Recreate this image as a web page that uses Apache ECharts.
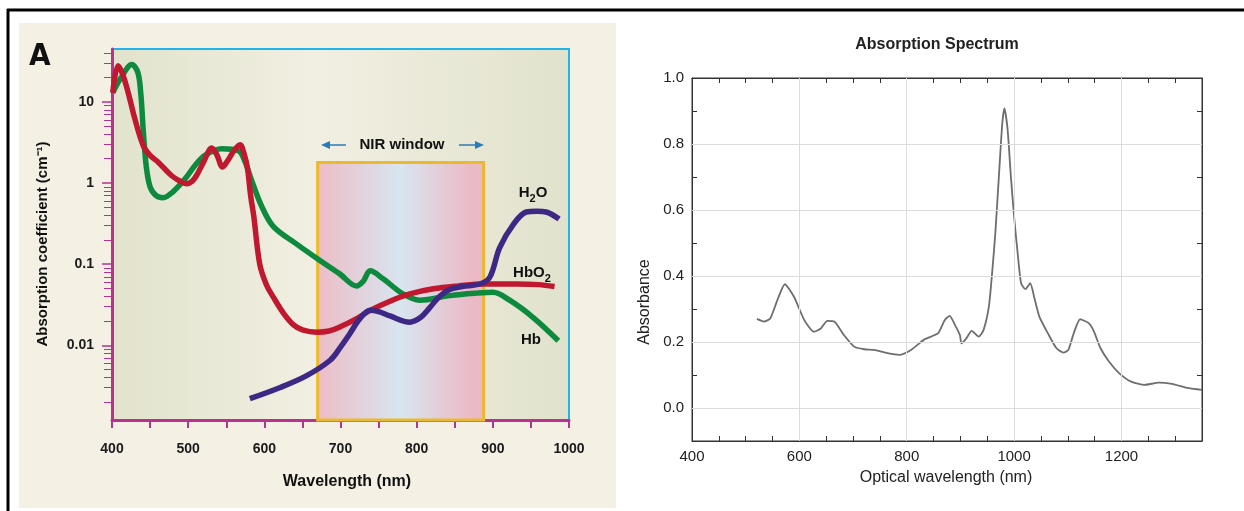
<!DOCTYPE html>
<html>
<head>
<meta charset="utf-8">
<title>Absorption spectra</title>
<script src="https://cdn.jsdelivr.net/npm/echarts@6/dist/echarts.min.js"></script>
<style>
html,body{margin:0;padding:0;background:#fff;}
#main{width:1244px;height:511px;}
</style>
</head>
<body>
<div id="main"></div>
<script>
// 左图：血红蛋白 / 水 吸收系数（对数轴）
var hbWl  = [401, 412, 426, 434, 438, 441, 445, 450, 458, 467, 480, 496, 510, 522, 544, 566, 575, 583, 596, 612, 642, 673, 699, 721, 730, 739, 756, 782, 804, 844, 880, 900, 922, 953, 986];
var hbVal = [13, 20, 29, 23, 12, 4.5, 1.6, 0.9, 0.7, 0.66, 0.78, 1.13, 1.7, 2.2, 2.65, 2.5, 1.8, 1.1, 0.53, 0.29, 0.178, 0.111, 0.076, 0.054, 0.062, 0.083, 0.066, 0.043, 0.036, 0.041, 0.044, 0.045, 0.036, 0.022, 0.0114];

var hbo2Wl  = [401, 408, 414, 421, 430, 441, 450, 461, 478, 490, 498, 505, 511, 520, 531, 538, 545, 552, 560, 568, 574, 578, 582, 586, 594, 603, 612, 625, 638, 650, 669, 685, 699, 720, 739, 765, 791, 822, 855, 887, 931, 960, 981];
var hbo2Val = [13, 28, 22, 13.3, 6.2, 2.9, 2.2, 1.8, 1.24, 1.05, 0.98, 1.05, 1.24, 1.8, 2.7, 2.2, 1.58, 1.9, 2.5, 2.97, 2.2, 1.5, 0.7, 0.4, 0.1, 0.055, 0.039, 0.025, 0.018, 0.0155, 0.0145, 0.015, 0.0168, 0.021, 0.027, 0.035, 0.043, 0.0497, 0.054, 0.057, 0.057, 0.056, 0.053];

var h2oWl  = [581, 620, 655, 686, 700, 712, 725, 739, 750, 765, 791, 805, 817, 830, 844, 860, 883, 896, 909, 927, 944, 958, 970, 987];
var h2oVal = [0.0022, 0.003, 0.0042, 0.0065, 0.0095, 0.0138, 0.021, 0.027, 0.026, 0.023, 0.0193, 0.022, 0.029, 0.040, 0.049, 0.053, 0.057, 0.069, 0.16, 0.31, 0.44, 0.45, 0.44, 0.36];

var nirWindow = [670, 888];
var nirTop = 1.8;
var logMin = 0.0012, logMax = 45;
var minorLogTicks = [];
[0.001, 0.01, 0.1, 1, 10].forEach(function (d) {
    for (var k = 2; k <= 9; k++) minorLogTicks.push(+(d * k).toPrecision(3));
});

// 右图：吸收光谱
var specWl  = [521, 534, 546, 559, 573, 590, 609, 627, 640, 652, 665, 683, 702, 721, 739, 764, 786, 808, 833, 858, 871, 880, 890, 899, 902, 911, 921, 934, 943, 953, 959, 965, 972, 978, 982, 988, 994, 1000, 1006, 1013, 1021, 1030, 1038, 1047, 1063, 1079, 1092, 1101, 1111, 1123, 1139, 1149, 1161, 1177, 1196, 1218, 1243, 1269, 1294, 1325, 1350];
var specVal = [0.27, 0.262, 0.272, 0.327, 0.375, 0.337, 0.267, 0.231, 0.241, 0.264, 0.262, 0.221, 0.186, 0.178, 0.176, 0.166, 0.161, 0.176, 0.208, 0.226, 0.267, 0.279, 0.251, 0.221, 0.196, 0.211, 0.234, 0.216, 0.236, 0.307, 0.408, 0.529, 0.711, 0.863, 0.908, 0.842, 0.701, 0.58, 0.479, 0.378, 0.36, 0.378, 0.332, 0.277, 0.226, 0.181, 0.168, 0.176, 0.226, 0.269, 0.257, 0.231, 0.181, 0.14, 0.105, 0.08, 0.07, 0.077, 0.073, 0.06, 0.055];
var gridX = [600, 800, 1000, 1200];
var gridY = [0, 0.2, 0.4, 0.6, 0.8];

function zip(xs, ys) {
    return xs.map(function (x, i) { return [x, ys[i]]; });
}

var chart = echarts.init(document.getElementById('main'));
var magenta = '#b8328f';
var leftFont = '"Liberation Sans", Arial, sans-serif';
var rightFont = '"Liberation Sans", Arial, sans-serif';

function subLabel(main, sub, tail) {
    return {
        text: '{a|' + main + '}{b|' + sub + '}' + (tail ? '{a|' + tail + '}' : ''),
        rich: {
            a: { fontSize: 15, fontWeight: 'bold', fontFamily: leftFont, fill: '#111', lineHeight: 22, verticalAlign: 'middle' },
            b: { fontSize: 11, fontWeight: 'bold', fontFamily: leftFont, fill: '#111', lineHeight: 12, verticalAlign: 'bottom' }
        }
    };
}

var option = {
    animation: false,
    backgroundColor: '#fff',
    grid: [
        {
            left: 112, right: 675, top: 49, bottom: 91,
            show: true,
            borderColor: '#20b4e8', borderWidth: 2,
            backgroundColor: new echarts.graphic.LinearGradient(0, 0, 1, 0, [
                { offset: 0, color: '#e1e3cc' },
                { offset: 0.45, color: '#f1efe2' },
                { offset: 1, color: '#e1e2cc' }
            ])
        },
        { left: 692, right: 42, top: 78, bottom: 70, show: true, backgroundColor: '#fff', borderColor: '#333', borderWidth: 1 }
    ],
    xAxis: [
        {
            gridIndex: 0, type: 'value', min: 400, max: 1000, interval: 50,
            axisLine: { onZero: false, lineStyle: { color: magenta, width: 3 } },
            axisTick: { length: 8, lineStyle: { color: magenta, width: 2 } },
            axisLabel: {
                formatter: function (v) { return v % 100 === 0 ? v : ''; },
                color: '#1a1a1a', fontWeight: 'bold', fontSize: 14, fontFamily: leftFont, margin: 22
            },
            splitLine: { show: false }
        },
        {
            gridIndex: 1, type: 'value', min: 400, max: 1350, interval: 50, position: 'bottom',
            axisLine: { onZero: false, lineStyle: { color: '#333', width: 1 } },
            axisTick: { inside: true, length: 5, lineStyle: { color: '#333' } },
            axisLabel: {
                formatter: function (v) { return v % 200 === 0 ? v : ''; },
                color: '#222', fontSize: 15, fontFamily: rightFont, margin: 8
            },
            splitLine: { show: false }
        },
        {
            gridIndex: 1, type: 'value', min: 400, max: 1350, interval: 50, position: 'top',
            axisLine: { onZero: false, lineStyle: { color: '#333', width: 1 } },
            axisTick: { inside: true, length: 5, lineStyle: { color: '#333' } },
            axisLabel: { show: false },
            splitLine: { show: false }
        }
    ],
    yAxis: [
        {
            gridIndex: 0, type: 'log', min: logMin, max: logMax, position: 'left',
            axisLine: { show: true, onZero: false, lineStyle: { color: magenta, width: 3 } },
            axisTick: { length: 10, lineStyle: { color: magenta, width: 1.5 } },
            axisLabel: {
                showMinLabel: false, showMaxLabel: false,
                color: '#1a1a1a', fontWeight: 'bold', fontSize: 14, fontFamily: leftFont, margin: 18
            },
            splitLine: { show: false }
        },
        {
            gridIndex: 0, type: 'log', min: logMin, max: logMax, position: 'left',
            axisLine: { show: false, onZero: false },
            axisTick: { show: true, length: 8, customValues: minorLogTicks, lineStyle: { color: magenta, width: 1 } },
            axisLabel: { show: false },
            splitLine: { show: false }
        },
        {
            gridIndex: 1, type: 'value', min: -0.1, max: 1.0, interval: 0.1, position: 'left',
            axisLine: { show: true, onZero: false, lineStyle: { color: '#333', width: 1 } },
            axisTick: { inside: true, length: 5, lineStyle: { color: '#333' } },
            axisLabel: {
                formatter: function (v) {
                    var t = Math.round(v * 10);
                    return t % 2 === 0 ? (t / 10).toFixed(1) : '';
                },
                color: '#222', fontSize: 15, fontFamily: rightFont, margin: 8
            },
            splitLine: { show: false }
        },
        {
            gridIndex: 1, type: 'value', min: -0.1, max: 1.0, interval: 0.1, position: 'right',
            axisLine: { show: true, onZero: false, lineStyle: { color: '#333', width: 1 } },
            axisTick: { inside: true, length: 5, lineStyle: { color: '#333' } },
            axisLabel: { show: false },
            splitLine: { show: false }
        }
    ],
    series: [
        {
            // NIR 窗口
            type: 'line', xAxisIndex: 0, yAxisIndex: 0, data: [], z: 1,
            markArea: {
                silent: true,
                itemStyle: {
                    color: new echarts.graphic.LinearGradient(0, 0, 1, 0, [
                        { offset: 0, color: '#edbcc6' },
                        { offset: 0.5, color: '#d8e5ef' },
                        { offset: 0.92, color: '#ebbac5' },
                        { offset: 1, color: '#ebb9c4' }
                    ]),
                    borderColor: '#ebb92c', borderWidth: 3
                },
                data: [[{ xAxis: nirWindow[0], yAxis: nirTop }, { xAxis: nirWindow[1], yAxis: logMin }]]
            }
        },
        {
            name: 'Hb', type: 'line', xAxisIndex: 0, yAxisIndex: 0, z: 3,
            data: zip(hbWl, hbVal), smooth: 0.35, showSymbol: false,
            lineStyle: { color: '#0e8a3e', width: 5.5 }
        },
        {
            name: 'HbO2', type: 'line', xAxisIndex: 0, yAxisIndex: 0, z: 4,
            data: zip(hbo2Wl, hbo2Val), smooth: 0.35, showSymbol: false,
            lineStyle: { color: '#c0182e', width: 5.5 }
        },
        {
            name: 'H2O', type: 'line', xAxisIndex: 0, yAxisIndex: 0, z: 5,
            data: zip(h2oWl, h2oVal), smooth: 0.35, showSymbol: false,
            lineStyle: { color: '#3d2886', width: 5.5 }
        },
        {
            // 右图网格线
            type: 'line', xAxisIndex: 1, yAxisIndex: 2, data: [], z: 1,
            markLine: {
                silent: true, symbol: ['none', 'none'], label: { show: false },
                lineStyle: { color: '#dcdcdc', type: 'solid', width: 1 },
                data: gridX.map(function (v) { return { xAxis: v }; })
                    .concat(gridY.map(function (v) { return { yAxis: v }; }))
            }
        },
        {
            name: 'Absorbance', type: 'line', xAxisIndex: 1, yAxisIndex: 2, z: 3,
            data: zip(specWl, specVal), smooth: 0.2, showSymbol: false,
            lineStyle: { color: '#6e6e6e', width: 1.8 }
        }
    ],
    graphic: [
        { type: 'rect', z: -10, shape: { x: 19, y: 23, width: 597, height: 485 }, style: { fill: '#f4f0e4' } },
        { type: 'line', z: 50, shape: { x1: 7, y1: 10, x2: 1244, y2: 10 }, style: { stroke: '#000', lineWidth: 3 } },
        { type: 'line', z: 50, shape: { x1: 8, y1: 9, x2: 8, y2: 511 }, style: { stroke: '#000', lineWidth: 3 } },
        { type: 'text', z: 50, x: 29, y: 41, style: { text: 'A', fontSize: 31, fontWeight: 'bold', fontFamily: '"DejaVu Sans Condensed", "DejaVu Sans", sans-serif', fill: '#111' } },
        { type: 'text', z: 50, x: 43, y: 244, rotation: Math.PI / 2, style: { text: 'Absorption coefficient (cm⁻¹)', fontSize: 15, fontWeight: 'bold', fontFamily: leftFont, fill: '#111', align: 'center', verticalAlign: 'middle' } },
        { type: 'text', z: 50, x: 347, y: 482, style: { text: 'Wavelength (nm)', fontSize: 16, fontWeight: 'bold', fontFamily: leftFont, fill: '#111', align: 'center', verticalAlign: 'middle' } },
        { type: 'text', z: 50, x: 402, y: 145, style: { text: 'NIR window', fontSize: 15, fontWeight: 'bold', fontFamily: leftFont, fill: '#111', align: 'center', verticalAlign: 'middle' } },
        { type: 'line', z: 50, shape: { x1: 328, y1: 145, x2: 346, y2: 145 }, style: { stroke: '#2b7bb9', lineWidth: 1.5 } },
        { type: 'polygon', z: 50, shape: { points: [[321, 145], [330, 141], [330, 149]] }, style: { fill: '#2b7bb9' } },
        { type: 'line', z: 50, shape: { x1: 459, y1: 145, x2: 477, y2: 145 }, style: { stroke: '#2b7bb9', lineWidth: 1.5 } },
        { type: 'polygon', z: 50, shape: { points: [[484, 145], [475, 141], [475, 149]] }, style: { fill: '#2b7bb9' } },
        { type: 'text', z: 50, x: 533, y: 193, style: Object.assign(subLabel('H', '2', 'O'), { align: 'center', verticalAlign: 'middle' }) },
        { type: 'text', z: 50, x: 532, y: 273, style: Object.assign(subLabel('HbO', '2'), { align: 'center', verticalAlign: 'middle' }) },
        { type: 'text', z: 50, x: 531, y: 340, style: { text: 'Hb', fontSize: 15, fontWeight: 'bold', fontFamily: leftFont, fill: '#111', align: 'center', verticalAlign: 'middle' } },
        { type: 'text', z: 50, x: 937, y: 45, style: { text: 'Absorption Spectrum', fontSize: 16, fontWeight: 'bold', fontFamily: rightFont, fill: '#222', align: 'center', verticalAlign: 'middle' } },
        { type: 'text', z: 50, x: 946, y: 478, style: { text: 'Optical wavelength (nm)', fontSize: 16, fontFamily: rightFont, fill: '#222', align: 'center', verticalAlign: 'middle' } },
        { type: 'text', z: 50, x: 645, y: 302, rotation: Math.PI / 2, style: { text: 'Absorbance', fontSize: 16, fontFamily: rightFont, fill: '#222', align: 'center', verticalAlign: 'middle' } }
    ]
};

chart.setOption(option);
</script>
</body>
</html>
